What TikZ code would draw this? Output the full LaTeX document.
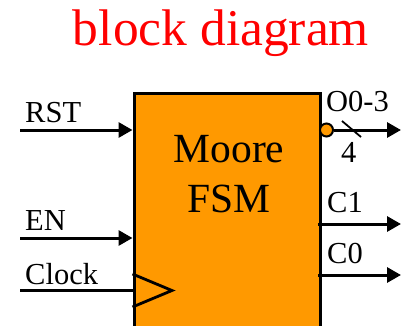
\documentclass[tikz,border=0pt]{standalone}
\usepackage{fontspec}
\setmainfont{Liberation Serif}
\usetikzlibrary{arrows.meta}
\definecolor{fsmorange}{HTML}{FF9900}
\begin{document}
\begin{tikzpicture}[x=1pt,y=1pt,
  sig/.style={line width=3pt,-{Triangle[length=14pt,width=15pt]}},
  lbl/.style={font=\fontsize{30.5}{30}\selectfont,inner sep=0pt,anchor=base west},
  fsmbox/.style={draw=black,line width=3pt,fill=fsmorange,minimum width=186pt,minimum height=250pt,inner sep=0pt,anchor=north west}]
\useasboundingbox (0,0) rectangle (401,-326);
\clip (0,0) rectangle (401,-326);
% title
\node[font=\fontsize{51.5}{51}\selectfont,text=red,inner sep=0pt,anchor=base] (title) at (221,-46) {block diagram};
% box
\node[fsmbox] (box) at (132.5,-92) {};
\node[font=\fontsize{41.5}{50}\selectfont,inner sep=0pt,anchor=base] (moore) at (229,-162) {Moore};
\node[font=\fontsize{41.5}{50}\selectfont,inner sep=0pt,anchor=base] (fsm) at (229,-212) {FSM};
% clock triangle
\coordinate (ct1) at (132.5,-274);
\coordinate (ctip) at (172,-290.5);
\coordinate (ct2) at (132.5,-307);
\draw[line width=2.8pt,line join=miter] (ct1) -- (ctip) -- (ct2);
% inputs
\coordinate (rst) at (20,-130);
\coordinate (en) at (20,-238);
\coordinate (clk) at (20,-290.5);
\draw[sig] (rst) -- (rst -| box.west);
\draw[sig] (en) -- (en -| box.west);
\draw[line width=3pt] (clk) -- (clk -| box.west);
\node[lbl] (rstl) at (25,-122) {RST};
\node[lbl] (enl) at (25,-230) {EN};
\node[lbl] (clkl) at (25,-284) {Clock};
% outputs
\node[circle,draw=black,line width=2pt,fill=fsmorange,minimum size=13pt,inner sep=0pt] (bub) at (326.5,-130) {};
\coordinate (oend) at (401,-130);
\coordinate (c1s) at (318,-224);
\coordinate (c1e) at (401,-224);
\coordinate (c0s) at (318,-275);
\coordinate (c0e) at (401,-275);
\draw[sig] (bub.east) -- (oend);
\draw[sig] (c1s) -- (c1e);
\draw[sig] (c0s) -- (c0e);
\coordinate (sl1) at (342,-121);
\coordinate (sl2) at (361,-137);
\draw[line width=1.8pt] (sl1) -- (sl2);
\node[lbl] (ol) at (326,-112) {O0-3};
\node[lbl] (four) at (341,-162) {4};
\node[lbl] (c1l) at (327,-212) {C1};
\node[lbl] (c0l) at (327,-263) {C0};
\end{tikzpicture}
\end{document}
